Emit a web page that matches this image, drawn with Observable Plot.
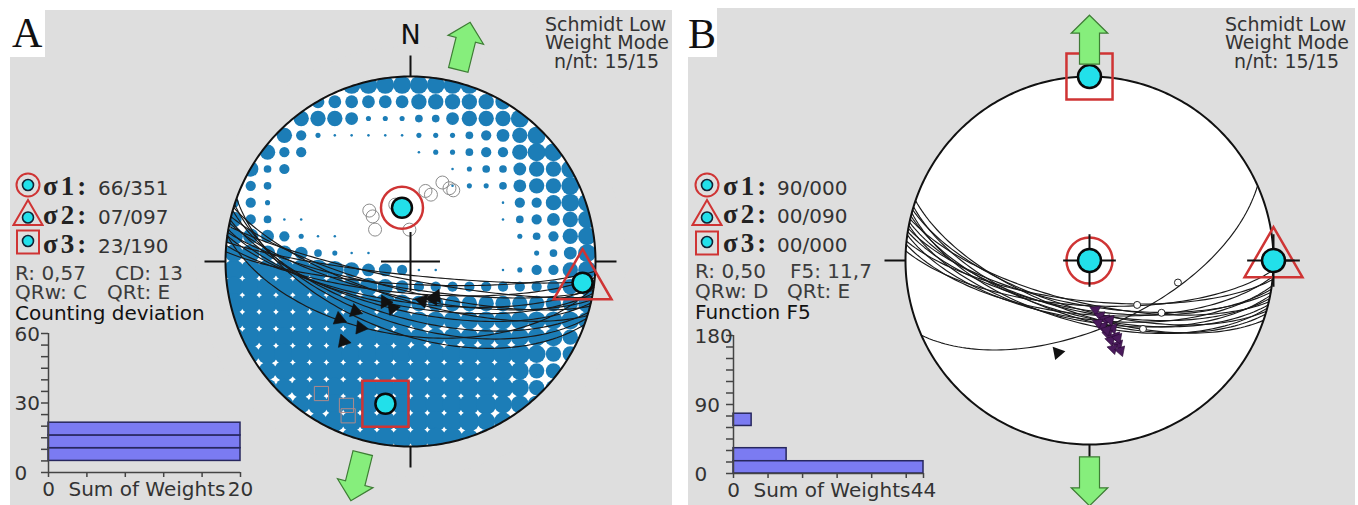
<!DOCTYPE html>
<html>
<head>
<meta charset="utf-8">
<script src="https://cdn.jsdelivr.net/npm/d3@7"></script>
<script src="https://cdn.jsdelivr.net/npm/@observablehq/plot@0.6"></script>
<style>
  html, body { margin: 0; padding: 0; background: #ffffff; }
  body { width: 1358px; height: 505px; position: relative; overflow: hidden; }
  .panel { position: absolute; background: #dedede; overflow: hidden; }
  .txt { position: absolute; white-space: pre; line-height: 0.75; font-family: "DejaVu Sans", sans-serif; font-size: 20px; color: #3a3a3a; }
  .hdr { position: absolute; white-space: pre; line-height: 0.75; font-family: "DejaVu Sans", sans-serif; font-size: 19px; color: #333; }
  .sig { position: absolute; white-space: pre; line-height: 0.75; font-family: "Liberation Serif", serif; font-size: 27px; font-weight: bold; letter-spacing: 3px; color: #222; }
  .letter { position: absolute; background: #fff; font-family: "Liberation Serif", serif; font-size: 42px; line-height: 1; color: #111; }
  .sym { position: absolute; }
</style>
</head>
<body>
<script>
// ================= DATA =================
// ---- Panel A ----
const A_axisNames  = ["σ1", "σ2", "σ3"];
const A_axisPlunge = [66, 7, 23];
const A_axisTrend  = [351, 97, 190];
const A_stats      = ["R: 0,57", "CD: 13", "QRw: C", "QRt: E"];
const A_histTitle  = "Counting deviation";
const A_header     = ["Schmidt Low", "Weight Mode", "n/nt: 15/15"];
const A_faultDipDir = [183, 185, 186, 188, 189, 190, 191, 192, 193, 194, 196, 197, 198, 200, 188];
const A_faultDip    = [ 80,  76,  84,  72,  78,  70,  82,  74,  68,  77,  65,  73,  62,  58,  57];
const A_lineTrend   = [231, 228, 217, 220, 212, 201, 163, 149, 144];
const A_linePlunge  = [ 49,  57,  53,  43,  69,  68,  72,  71,  71];
const A_cloud1Trend  = [22, 28, 31, 12, 320, 312, 358, 345, 321, 17];
const A_cloud1Plunge = [52, 53, 53, 58,  64,  69,  76,  64,  61, 59];
const A_cloud3Trend  = [214, 204, 202];
const A_cloud3Plunge = [ 15,  16,  11];
const A_extension    = [14, 194];
// counting-deviation grid (22 x 22 cells, 0 = empty ... 9 = saturated)
const A_density = [
  "0000000777777770000000",
  "0000055555566666600000",
  "0000666522233566670000",
  "0006421111122234567000",
  "0064400000012234467700",
  "0634000000000123356670",
  "0430000000000122356670",
  "4420000000000000144677",
  "6431100000000000134567",
  "7654211000000000023467",
  "7766532110000000002357",
  "8888887655411000124467",
  "8888888776544444444567",
  "8888888888766666666667",
  "8888888888877777777777",
  "8888888888877777777766",
  "7788888888888888887666",
  "7778888888888888876666",
  "7777888888888888876666",
  "7777788888888888777777",
  "7777778888888887777777",
  "7777777888888877777777"
];
const A_histLo = [5, 10.5, 16];
const A_histHi = [10.5, 16, 21.5];
const A_histW  = [20, 20, 20];
const A_histXMax = 20, A_histYMax = 60;
const A_yTicks = [0, 5, 10, 15, 20, 25, 30, 35, 40, 45, 50, 55, 60];
const A_yTickLabels = [0, 30, 60];
const A_xTicks = [0, 4, 8, 12, 16, 20];
const A_xTickLabels = [0, 20];

// ---- Panel B ----
const B_axisNames  = ["σ1", "σ2", "σ3"];
const B_axisPlunge = [90, 0, 0];
const B_axisTrend  = [0, 90, 0];
const B_stats      = ["R: 0,50", "F5: 11,7", "QRw: D", "QRt: E"];
const B_histTitle  = "Function F5";
const B_header     = ["Schmidt Low", "Weight Mode", "n/nt: 15/15"];
const B_faultDipDir = [183, 185, 186, 188, 189, 190, 191, 192, 193, 194, 195, 196, 197, 199, 156];
const B_faultDip    = [ 70,  66,  72,  64,  68,  70,  63,  67,  71,  65,  62,  68,  64,  66,  60];
const B_lineTrend   = [173, 169, 165, 161, 169, 161, 166, 161, 165, 161, 165, 161, 172, 166, 160];
const B_linePlunge  = [ 68,  65,  63,  62,  60,  58,  56,  54,  53,  50,  49,  47,  62,  58,  53];
const B_arrowLineTrend = [199], B_arrowLinePlunge = [46];
const B_openTrend  = [104, 133, 126, 142];
const B_openPlunge = [ 49,  61,  50,  51];
const B_extension  = [0, 180];
const B_histLo = [62, 16, 0];
const B_histHi = [78, 33, 16];
const B_histW  = [4.2, 12.3, 44];
const B_histXMax = 44, B_histYMax = 180;
const B_yTicks = [0, 15, 30, 45, 60, 75, 90, 105, 120, 135, 150, 165, 180];
const B_yTickLabels = [0, 90, 180];
const B_xTicks = [0, 8, 16, 24, 32, 40, 44];
const B_xTickLabels = [0, 44];

// ================= HELPERS =================
const RAD = Math.PI / 180;
const RED = "#cf3434", CYAN = "#22e0ea", BLUE = "#1c7db7", GRAY = "#dedede";
const pad = (v, n) => String(v).padStart(n, "0");

// Schmidt (equal-area) lower hemisphere projection, unit primitive
function proj(trend, plunge) {
  const r = Math.SQRT2 * Math.sin((90 - plunge) / 2 * RAD);
  return {x: r * Math.sin(trend * RAD), y: r * Math.cos(trend * RAD)};
}
function greatCircle(dd, dip, id) {
  const s = (dd - 90) * RAD, a = dd * RAD, b = dip * RAD;
  const S = [Math.cos(s), Math.sin(s), 0];
  const D = [Math.cos(a) * Math.cos(b), Math.sin(a) * Math.cos(b), Math.sin(b)];
  const pts = [];
  for (let t = 0; t <= 180; t += 2) {
    const c = Math.cos(t * RAD), sn = Math.sin(t * RAD);
    const n = c * S[0] + sn * D[0], e = c * S[1] + sn * D[1], d = Math.max(0, Math.min(1, c * S[2] + sn * D[2]));
    pts.push({...proj(Math.atan2(e, n) / RAD, Math.asin(d) / RAD), id});
  }
  return pts;
}
const arrowSymbol = {
  draw(ctx, size) {
    const k = Math.sqrt(size / Math.PI) / 24.5;
    const P = [[0,-24.5],[18.3,-6.5],[10,-6.5],[10,24.5],[-10,24.5],[-10,-6.5],[-18.3,-6.5]];
    ctx.moveTo(P[0][0] * k, P[0][1] * k);
    for (let i = 1; i < P.length; i++) ctx.lineTo(P[i][0] * k, P[i][1] * k);
    ctx.closePath();
  }
};
const toPts = (trends, plunges, extra = {}) => trends.map((t, i) => ({...proj(t, plunges[i]), trend: t, ...extra}));

function stereonet(o) {
  const {W, H, cx, cy, R} = o;
  const prim = d3.range(0, 361, 1).map(t => proj(t, 0));
  const gc = o.faultDipDir.flatMap((dd, i) => greatCircle(dd, o.faultDip[i], i));
  const axes = o.axisTrend.map((t, i) => ({...proj(t, o.axisPlunge[i]), name: o.axisNames[i]}));
  const TL = 21 / R;
  const ticks = [0, 90, 180, 270].map(a => ({
    x1: Math.sin(a * RAD), y1: Math.cos(a * RAD),
    x2: (1 + TL) * Math.sin(a * RAD), y2: (1 + TL) * Math.cos(a * RAD)}));
  const arrows = o.extension.map(a => ({x: 1.2 * Math.sin(a * RAD), y: 1.2 * Math.cos(a * RAD), a}));
  const marks = [Plot.line(prim, {x: "x", y: "y", fill: "white", stroke: "none"})];
  if (o.density) {
    const cells = [];
    o.density.forEach((row, j) => [...row].forEach((c, i) => {
      const v = +c; if (!v) return;
      const x = (i - 10.5) / 11, y = (10.5 - j) / 11;
      if (Math.hypot(x, y) > 1.06) return;
      cells.push({x, y, v});
    }));
    const ringR = 1 + 15 / R;
    const ring = d3.range(0, 361, 1).map(t => ({x: ringR * Math.sin(t * RAD), y: ringR * Math.cos(t * RAD)}));
    marks.push(Plot.dot(cells, {x: "x", y: "y", r: "v", fill: BLUE}));
    marks.push(Plot.line(ring, {x: "x", y: "y", stroke: GRAY, strokeWidth: 30}));
  }
  marks.push(Plot.line(gc, {x: "x", y: "y", z: "id", stroke: "#1a1a1a", strokeWidth: 1.15}));
  if (o.cloud1) marks.push(Plot.dot(o.cloud1, {x: "x", y: "y", r: 6.5, stroke: "#8c8c8c", strokeWidth: 1, fill: "none"}));
  if (o.cloud3) marks.push(Plot.dot(o.cloud3, {x: "x", y: "y", symbol: "square", r: 8, stroke: "#b08a8a", strokeWidth: 1, fill: "none"}));
  if (o.open) marks.push(Plot.dot(o.open, {x: "x", y: "y", r: 3.5, stroke: "#222", strokeWidth: 1, fill: "white"}));
  if (o.lines) marks.push(Plot.dot(o.lines, {x: "x", y: "y", symbol: "triangle", r: o.lineR, rotate: "trend", fill: o.lineColor, stroke: o.lineStroke, strokeWidth: 0.6}));
  if (o.lines2) marks.push(Plot.dot(o.lines2, {x: "x", y: "y", symbol: "triangle", r: 5, rotate: "trend", fill: "#111"}));
  marks.push(Plot.line(prim, {x: "x", y: "y", stroke: "#111", strokeWidth: 2}));
  marks.push(Plot.link(ticks, {x1: "x1", y1: "y1", x2: "x2", y2: "y2", stroke: "#111", strokeWidth: 2}));
  if (o.centerCross) marks.push(Plot.dot([{x: 0, y: 0}], {x: "x", y: "y", symbol: "plus", r: 19, stroke: "#111", strokeWidth: 2}));
  if (o.northLabel) marks.push(Plot.text([{x: 0, y: 1.222, t: "N"}], {x: "x", y: "y", text: "t", fontSize: 27, fill: "#111"}));
  marks.push(Plot.dot([axes[0]], {x: "x", y: "y", r: o.ring1, stroke: RED, strokeWidth: 2.5, fill: "none"}));
  marks.push(Plot.dot([axes[1]], {x: "x", y: "y", symbol: "triangle", r: 21.5, stroke: RED, strokeWidth: 2.5, fill: "none"}));
  marks.push(Plot.dot([axes[2]], {x: "x", y: "y", symbol: "square", r: 26, stroke: RED, strokeWidth: 2.5, fill: "none"}));
  if (o.crosshair) marks.push(Plot.dot([axes[0], axes[1]], {x: "x", y: "y", symbol: "plus", r: 17, stroke: "#111", strokeWidth: 2}));
  marks.push(Plot.dot(axes, {x: "x", y: "y", r: o.dotR, fill: CYAN, stroke: "#0a0a0a", strokeWidth: 2.5}));
  marks.push(Plot.dot(arrows, {x: "x", y: "y", symbol: arrowSymbol, r: 24.5, rotate: "a", fill: "#86ee7c", stroke: "#3e7d35", strokeWidth: 1.2}));
  return Plot.plot({
    width: W, height: H, margin: 0,
    x: {domain: [-cx / R, (W - cx) / R], range: [0, W], axis: null},
    y: {domain: [(cy - H) / R, cy / R], range: [H, 0], axis: null},
    r: {type: "linear", domain: [0, 9], range: [0, 0.685 * R / 11]},
    style: {background: "transparent", overflow: "visible", fontFamily: "DejaVu Sans"},
    marks
  });
}

function histogram(h, panelLeft) {
  const top = h.frameTop - 15, height = 505 - top, width = h.frameRight - panelLeft + 25;
  const bins = h.lo.map((lo, i) => ({lo, hi: h.hi[i], w: h.w[i]}));
  const plot = Plot.plot({
    width, height,
    marginLeft: h.frameLeft - panelLeft, marginRight: 25, marginTop: 15,
    marginBottom: height - 15 - (h.frameBottom - h.frameTop),
    x: {domain: [0, h.xMax]}, y: {domain: [0, h.yMax]},
    style: {background: "transparent", overflow: "visible", fontFamily: "DejaVu Sans", fontSize: "20px", color: "#333"},
    marks: [
      Plot.rect(bins, {x1: () => 0, x2: "w", y1: "lo", y2: "hi", fill: "#7b7bf2", stroke: "#27275e", strokeWidth: 1.5}),
      Plot.ruleX([0], {stroke: "#444", strokeWidth: 1.5}),
      Plot.ruleY([0], {stroke: "#444", strokeWidth: 1.5}),
      Plot.axisY({ticks: h.yTicks, tickSize: 7, tickFormat: () => "", label: null, stroke: "#444", strokeWidth: 1.5}),
      Plot.axisX({ticks: h.xTicks, tickSize: 5, tickFormat: () => "", label: null, stroke: "#444", strokeWidth: 1.5}),
      Plot.text(h.yLabels, {y: d => d, text: d => String(d), frameAnchor: "left", textAnchor: "start", dx: h.labelX - h.frameLeft, dy: 1, fill: "#333"}),
      Plot.text(h.xLabels, {x: d => d, text: d => String(d), frameAnchor: "bottom", dy: 23, fill: "#333"}),
      Plot.text(["Sum of Weights"], {frameAnchor: "bottom-left", textAnchor: "start", dx: 20, dy: 23, fill: "#333"})
    ]
  });
  plot.style.position = "absolute";
  plot.style.left = "0px";
  plot.style.top = (top - h.panelTop) + "px";
  return plot;
}

// line-height 0.75: baseline sits at 0.721 em (DejaVu) / 0.7125 em (Liberation) below the box top
function addText(parent, o, str, x, baseline, cls = "txt", color) {
  const el = document.createElement("div");
  el.className = cls;
  el.textContent = str;
  const fs = cls === "sig" ? 27 : cls === "hdr" ? 19 : 20;
  const k = cls === "sig" ? 0.7125 : 0.721;
  el.style.left = (x - o.left) + "px";
  el.style.top = (baseline - k * fs - o.top) + "px";
  if (color) el.style.color = color;
  parent.appendChild(el);
}
function symSVG(kind) {
  let shape = "", dot = "";
  const d = (cx, cy) => `<circle cx="${cx}" cy="${cy}" r="5.5" fill="${CYAN}" stroke="#123" stroke-width="1.6"/>`;
  if (kind === 0) { shape = `<circle cx="16" cy="16" r="11.5" fill="none" stroke="${RED}" stroke-width="2"/>`; dot = d(16, 16); }
  if (kind === 1) { shape = `<polygon points="16,3 1.5,28 30.5,28" fill="none" stroke="${RED}" stroke-width="2"/>`; dot = d(16, 20.5); }
  if (kind === 2) { shape = `<rect x="5" y="4.5" width="22" height="23" fill="none" stroke="${RED}" stroke-width="2"/>`; dot = d(16, 15); }
  return `<svg width="32" height="32" viewBox="0 0 32 32">${shape}${dot}</svg>`;
}

function buildPanel(o) {
  const div = document.createElement("div");
  div.className = "panel";
  Object.assign(div.style, {left: o.left + "px", top: o.top + "px", width: o.W + "px", height: o.H + "px"});
  document.body.appendChild(div);
  const sn = stereonet(o);
  sn.style.position = "absolute"; sn.style.left = "0px"; sn.style.top = "0px";
  div.appendChild(sn);
  div.appendChild(histogram({...o.hist, panelTop: o.top}, o.left));
  o.header.forEach((s, i) => addText(div, o, s, o.headerX[i], o.headerBase[i], "hdr"));
  o.axisNames.forEach((nm, i) => {
    const s = document.createElement("div");
    s.className = "sym";
    s.innerHTML = symSVG(i);
    s.style.left = (o.symX - 16 - o.left) + "px";
    s.style.top = (o.symY[i] - 16 - o.top) + "px";
    div.appendChild(s);
    addText(div, o, nm + ":", o.sigX, o.legendBase[i], "sig");
    addText(div, o, pad(o.axisPlunge[i], 2) + "/" + pad(o.axisTrend[i], 3), o.numX, o.legendBase[i], "txt", "#333");
  });
  addText(div, o, o.stats[0], o.statX[0], o.statBase[0], "txt", "#3c3c3c");
  addText(div, o, o.stats[1], o.statX[1], o.statBase[0], "txt", "#3c3c3c");
  addText(div, o, o.stats[2], o.statX[0], o.statBase[1], "txt", "#3c3c3c");
  addText(div, o, o.stats[3], o.statX[2], o.statBase[1], "txt", "#3c3c3c");
  addText(div, o, o.histTitle, o.statX[0], o.statBase[2], "txt", "#111");
}

// ================= PANELS =================
buildPanel({
  left: 10, top: 10, W: 662, H: 495, cx: 400, cy: 251, R: 185,
  axisNames: A_axisNames, axisPlunge: A_axisPlunge, axisTrend: A_axisTrend,
  faultDipDir: A_faultDipDir, faultDip: A_faultDip,
  density: A_density,
  cloud1: toPts(A_cloud1Trend, A_cloud1Plunge),
  cloud3: toPts(A_cloud3Trend, A_cloud3Plunge),
  lines: toPts(A_lineTrend, A_linePlunge), lineR: 5, lineColor: "#111", lineStroke: "#111",
  extension: A_extension, centerCross: true, northLabel: true, crosshair: false,
  ring1: 21, dotR: 10,
  header: A_header, headerX: [545, 545, 554], headerBase: [31, 49, 68],
  symX: 28, symY: [185, 213, 242], sigX: 43, numX: 98, legendBase: [195, 224.5, 253],
  stats: A_stats, statX: [15, 115, 107], statBase: [280, 299.5, 320], histTitle: A_histTitle,
  hist: {frameLeft: 48, frameRight: 240, frameTop: 333, frameBottom: 472, labelX: 14,
         lo: A_histLo, hi: A_histHi, w: A_histW, xMax: A_histXMax, yMax: A_histYMax,
         yTicks: A_yTicks, yLabels: A_yTickLabels, xTicks: A_xTicks, xLabels: A_xTickLabels}
});
buildPanel({
  left: 688, top: 8, W: 667, H: 497, cx: 401, cy: 252, R: 184,
  axisNames: B_axisNames, axisPlunge: B_axisPlunge, axisTrend: B_axisTrend,
  faultDipDir: B_faultDipDir, faultDip: B_faultDip,
  density: null,
  open: toPts(B_openTrend, B_openPlunge),
  lines: toPts(B_lineTrend, B_linePlunge), lineR: 4, lineColor: "#4a1a5c", lineStroke: "#2a0a36",
  lines2: toPts(B_arrowLineTrend, B_arrowLinePlunge),
  extension: B_extension, centerCross: false, northLabel: false, crosshair: true,
  ring1: 23, dotR: 11.5,
  header: B_header, headerX: [1225, 1225, 1234], headerBase: [31, 49, 68],
  symX: 707, symY: [185, 213, 242.5], sigX: 723, numX: 777, legendBase: [195, 223.5, 252],
  stats: B_stats, statX: [695, 790, 787], statBase: [278.5, 298.5, 319], histTitle: B_histTitle,
  hist: {frameLeft: 733, frameRight: 923, frameTop: 335, frameBottom: 473, labelX: 694,
         lo: B_histLo, hi: B_histHi, w: B_histW, xMax: B_histXMax, yMax: B_histYMax,
         yTicks: B_yTicks, yLabels: B_yTickLabels, xTicks: B_xTicks, xLabels: B_xTickLabels}
});

// panel letters
[["A", 10, 8, 35, 12, 47], ["B", 687, 8, 30, 688, 48]].forEach(([ch, bx, by, bw, tx, base]) => {
  const box = document.createElement("div");
  box.className = "letter";
  Object.assign(box.style, {left: bx + "px", top: by + "px", width: bw + "px", height: "49px"});
  const t = document.createElement("span");
  t.textContent = ch;
  Object.assign(t.style, {position: "absolute", left: (tx - bx) + "px", top: (base - 0.8375 * 42 - by) + "px"});
  box.appendChild(t);
  document.body.appendChild(box);
});
</script>
</body>
</html>
